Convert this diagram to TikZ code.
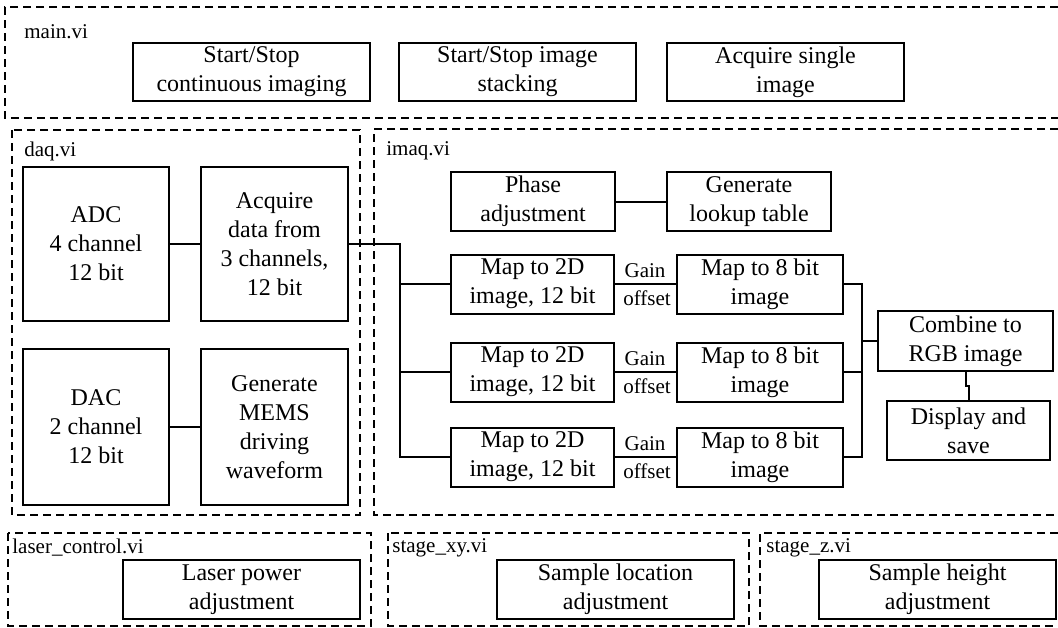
\documentclass[tikz,border=0pt]{standalone}
\usepackage{fontspec}
\setmainfont{LiberationSerif}[Extension=.ttf,UprightFont=*-Regular]
\begin{document}
\begin{tikzpicture}[x=0.5pt,y=-0.5pt,
  box/.style={draw,line width=1pt,align=center,inner sep=0pt,font=\fontsize{12}{14.5}\selectfont},
  sz/.style 2 args={minimum width=#1*0.5pt,minimum height=#2*0.5pt},
  frame/.style={line width=1pt,dash pattern=on 4pt off 2.5pt},
  lbl/.style={anchor=west,inner sep=0pt,font=\fontsize{10.5}{12}\selectfont},
  gl/.style={inner sep=0pt,font=\fontsize{10.5}{12}\selectfont},
  wire/.style={line width=1pt}]
\fill[white] (0,0) rectangle (1058,627);
\useasboundingbox (0,0) rectangle (1058,627);
% frames
\draw[frame] (1058,7) -- (5,7) -- (5,118) -- (1058,118);
\draw[frame] (12,130) rectangle (360,515);
\draw[frame] (1058,129) -- (374,129) -- (374,515) -- (1058,515);
\draw[frame] (8,533) rectangle (371,626);
\draw[frame] (388,533) rectangle (749,626);
\draw[frame] (1058,533) -- (760,533) -- (760,626) -- (1058,626);
% frame labels
\node[lbl] (lmain) at (24,32) {main.vi};
\node[lbl] (ldaq) at (24,151) {daq.vi};
\node[lbl] (limaq) at (386,151) {imaq.vi};
\node[lbl] (llaser) at (12,548) {laser\_control.vi};
\node[lbl] (lxy) at (392,548) {stage\_xy.vi};
\node[lbl] (lz) at (766,548) {stage\_z.vi};
% main.vi boxes
\node[box,sz={237}{58}] (m1) at (251.5,72) {Start/Stop\\continuous imaging};
\node[box,sz={237}{58}] (m2) at (517.5,72) {Start/Stop image\\stacking};
\node[box,sz={237}{58}] (m3) at (785.5,72) {Acquire single\\image};
% daq.vi
\node[box,sz={146}{154}] (adc) at (96,244) {ADC\\4 channel\\12 bit};
\node[box,sz={147}{154}] (acq) at (274.5,244) {Acquire\\data from\\3 channels,\\12 bit};
\node[box,sz={146}{156}] (dac) at (96,427) {DAC\\2 channel\\12 bit};
\node[box,sz={147}{156}] (gen) at (274.5,427) {Generate\\MEMS\\driving\\waveform};
\draw[wire] (adc) -- (acq);
\draw[wire] (dac) -- (gen);
% imaq.vi
\node[box,sz={164}{59}] (phase) at (533,201.5) {Phase\\adjustment};
\node[box,sz={164}{59}] (lut) at (749,201.5) {Generate\\lookup table};
\draw[wire] (phase) -- (lut);
\node[box,sz={163}{59}] (a1) at (532.5,284) {Map to 2D\\image, 12 bit};
\node[box,sz={163}{59}] (a2) at (532.5,372) {Map to 2D\\image, 12 bit};
\node[box,sz={163}{59}] (a3) at (532.5,457) {Map to 2D\\image, 12 bit};
\node[box,sz={166}{59}] (b1) at (760,284) {Map to 8 bit\\image};
\node[box,sz={166}{59}] (b2) at (760,372) {Map to 8 bit\\image};
\node[box,sz={166}{59}] (b3) at (760,457) {Map to 8 bit\\image};
\foreach \i/\y in {1/284,2/372,3/457}{
  \draw[wire] (a\i) -- (b\i);
  \node[gl] (g\i) at (645,\y-13) {Gain};
  \node[gl] (o\i) at (647,\y+14) {offset};
}
\coordinate (bus) at (400,244);
\draw[wire] (acq.east |- bus) -- (bus) |- (a1.west);
\draw[wire] (bus) |- (a2.west);
\draw[wire] (bus) |- (a3.west);
\node[box,sz={175}{60}] (comb) at (965.5,341) {Combine to\\RGB image};
\node[box,sz={163}{59}] (disp) at (968.5,430.5) {Display and\\save};
\coordinate (rbus) at (862,341);
\draw[wire] (b1.east) -| (rbus);
\draw[wire] (b3.east) -| (rbus);
\draw[wire] (b2.east) -- (b2.east -| rbus);
\draw[wire] (rbus) -- (comb.west);
\coordinate (jog) at (965.5,386);
\draw[wire] (comb.south) -- (jog) -| (disp.north);
% bottom boxes
\node[box,sz={237}{59}] (laser) at (241.5,589.5) {Laser power\\adjustment};
\node[box,sz={237}{59}] (xy) at (615.5,589.5) {Sample location\\adjustment};
\node[box,sz={237}{59}] (zz) at (937.5,589.5) {Sample height\\adjustment};
\end{tikzpicture}
\end{document}
